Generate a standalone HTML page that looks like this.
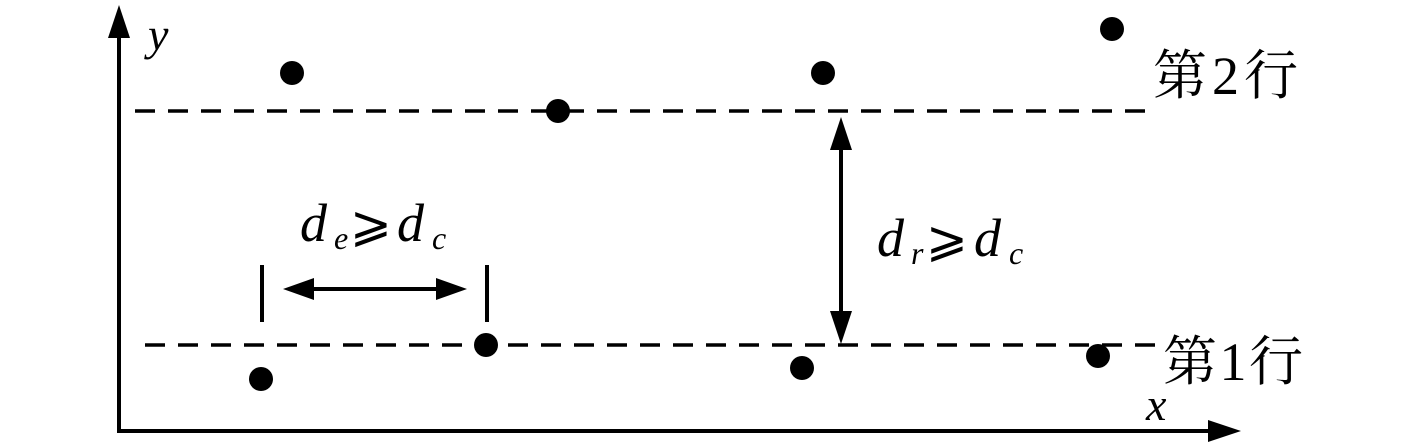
<!DOCTYPE html>
<html><head><meta charset="utf-8"><style>
html,body{margin:0;padding:0;background:#fff;}
svg{display:block;}
.m{font-family:"Liberation Serif",serif;font-style:italic;}
.c{font-family:"Liberation Serif","Noto Serif CJK SC",serif;}
.g{font-family:"DejaVu Serif","DejaVu Sans",serif;}
</style></head><body>
<svg width="1417" height="442" viewBox="0 0 1417 442" xmlns="http://www.w3.org/2000/svg">
<g stroke="#000" fill="none">
<line x1="119" y1="30" x2="119" y2="433" stroke-width="4"/>
<line x1="117" y1="431" x2="1215" y2="431" stroke-width="4"/>
<line x1="135" y1="111" x2="1145" y2="111" stroke-width="3.5" stroke-dasharray="20 13"/>
<line x1="145" y1="345" x2="1160" y2="345" stroke-width="3.5" stroke-dasharray="20 13"/>
<line x1="841" y1="140" x2="841" y2="320" stroke-width="4"/>
<line x1="305" y1="289" x2="445" y2="289" stroke-width="4"/>
<line x1="262" y1="265" x2="262" y2="322" stroke-width="4"/>
<line x1="487" y1="265" x2="487" y2="322" stroke-width="4"/>
</g>
<g fill="#000">
<polygon points="119,5 108,38 130,38"/>
<polygon points="1241,431 1208,420 1208,442"/>
<polygon points="841,117 830,150 852,150"/>
<polygon points="841,344 830,311 852,311"/>
<polygon points="283,289 314,278 314,300"/>
<polygon points="467,289 436,278 436,300"/>
<circle cx="292" cy="73" r="12"/>
<circle cx="558" cy="111" r="12"/>
<circle cx="823" cy="73" r="12"/>
<circle cx="1112" cy="29" r="12"/>
<circle cx="261" cy="379" r="12"/>
<circle cx="486" cy="345" r="12"/>
<circle cx="802" cy="368" r="12"/>
<circle cx="1098" cy="356" r="12"/>
</g>
<text x="148" y="50" class="m" font-size="46">y</text>
<text x="1146" y="420" class="m" font-size="46">x</text>
<text x="1153" y="94" class="c" font-size="54" textLength="145" lengthAdjust="spacing">第2行</text>
<text x="1163" y="380" class="c" font-size="54" textLength="140" lengthAdjust="spacing">第1行</text>
<text x="300" y="241" class="m" font-size="54">d</text>
<text x="334" y="249" class="m" font-size="32">e</text>
<text x="350" y="241" class="g" font-size="50">⩾</text>
<text x="397" y="241" class="m" font-size="54">d</text>
<text x="432" y="249" class="m" font-size="32">c</text>
<text x="877" y="256" class="m" font-size="54">d</text>
<text x="911" y="264" class="m" font-size="32">r</text>
<text x="926" y="256" class="g" font-size="50">⩾</text>
<text x="974" y="256" class="m" font-size="54">d</text>
<text x="1009" y="264" class="m" font-size="32">c</text>
</svg>
</body></html>
